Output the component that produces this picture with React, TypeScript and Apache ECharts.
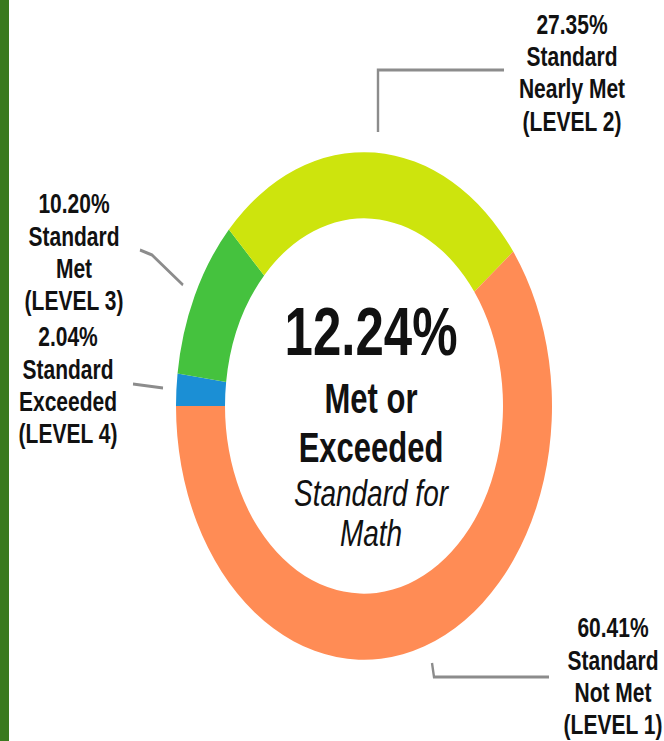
import React, { useEffect, useRef } from "react";
import * as echarts from "echarts";

// Data (clockwise from 9 o'clock)
const levels = [4, 3, 2, 1];
const names = ["Standard\nExceeded", "Standard\nMet", "Standard\nNearly Met", "Standard\nNot Met"];
const values = [2.04, 10.2, 27.35, 60.41];
const colors = ["#1b8fd5", "#45c23e", "#cde40d", "#ff8c55"];

const SY = 1.35; // vertical stretch of the reference
const W = 664;
const H = 741;
const FONT = '"Liberation Sans", Arial, sans-serif';

// label placement (page coordinates) for each data item
const labelPos = [
  { x: 68, y: 384.5 },
  { x: 74, y: 251.5 },
  { x: 572, y: 72 },
  { x: 613, y: 675.5 },
];
const leaderPts = [
  [[133, 384], [163, 388]],
  [[140, 250], [152, 255], [183, 285]],
  [[378, 132], [378, 70], [504, 70]],
  [[432, 663], [434, 677], [549, 677]],
];

export default function App() {
  const ref = useRef<HTMLDivElement>(null);
  useEffect(() => {
    if (!ref.current) return;
    const chart = echarts.init(ref.current, null, { renderer: "svg" });
    const py = (y: number) => y / SY;
    const metOrExceeded = (values[0] + values[1]).toFixed(2) + "%";

    const graphics: any[] = [
      { type: "rect", shape: { x: 0, y: 0, width: 9, height: H / SY }, style: { fill: "#3a7a1e" } },
    ];
    values.forEach((v, i) => {
      graphics.push({
        type: "polyline",
        shape: { points: leaderPts[i].map(([x, y]) => [x, py(y)]) },
        style: { stroke: "#8c8c8c", lineWidth: 2.4, fill: "none" },
      });
      graphics.push({
        type: "text",
        x: labelPos[i].x,
        y: py(labelPos[i].y),
        style: {
          text: `${v.toFixed(2)}%\n${names[i]}\n(LEVEL ${levels[i]})`,
          fill: "#111",
          fontFamily: FONT,
          fontWeight: "bold",
          fontSize: 21,
          lineHeight: 24,
          align: "center",
          verticalAlign: "middle",
          textAlign: "center",
          textVerticalAlign: "middle",
        },
      });
    });
    const centerTexts = [
      { t: metOrExceeded, y: 331.5, size: 51, weight: "bold", style: "normal" },
      { t: "Met or", y: 398.5, size: 31, weight: "bold", style: "normal" },
      { t: "Exceeded", y: 448, size: 31, weight: "bold", style: "normal" },
      { t: "Standard for", y: 493, size: 28, weight: "normal", style: "italic" },
      { t: "Math", y: 533, size: 28, weight: "normal", style: "italic" },
    ];
    centerTexts.forEach((c) => {
      graphics.push({
        type: "text",
        x: 371,
        y: py(c.y),
        style: {
          text: c.t,
          fill: "#111",
          fontFamily: FONT,
          fontWeight: c.weight,
          fontStyle: c.style,
          fontSize: c.size,
          align: "center",
          verticalAlign: "middle",
          textAlign: "center",
          textVerticalAlign: "middle",
        },
      });
    });

    chart.setOption({
      animation: false,
      backgroundColor: "#ffffff",
      graphic: graphics,
      series: [
        {
          type: "pie",
          center: [364, py(406)],
          radius: [139, 188],
          startAngle: 180,
          clockwise: true,
          avoidLabelOverlap: false,
          label: { show: false },
          labelLine: { show: false },
          emphasis: { disabled: true },
          itemStyle: { borderWidth: 0 },
          data: values.map((v, i) => ({
            value: v,
            name: names[i].replace("\n", " "),
            itemStyle: { color: colors[i] },
          })),
        },
      ],
    });
    return () => chart.dispose();
  }, []);

  return (
    <div style={{ position: "fixed", left: 0, top: 0, width: W, height: H, overflow: "hidden", background: "#fff" }}>
      <div
        ref={ref}
        style={{ width: W, height: H / SY, transform: `scaleY(${SY})`, transformOrigin: "0 0" }}
      />
    </div>
  );
}
